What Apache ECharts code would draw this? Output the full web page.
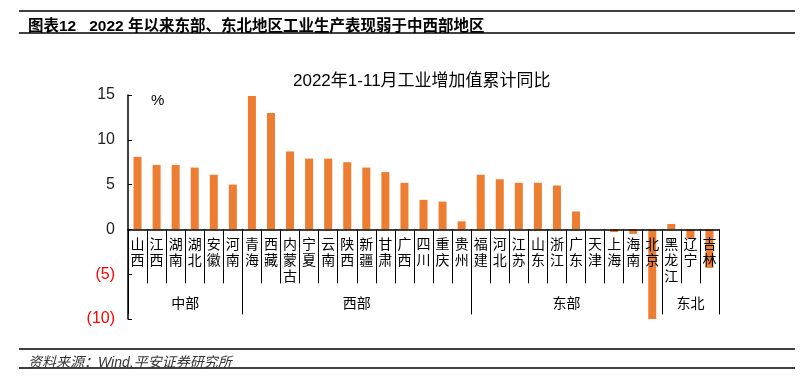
<!DOCTYPE html>
<html>
<head>
<meta charset="utf-8">
<script src="https://cdn.jsdelivr.net/npm/echarts@6/dist/echarts.min.js"></script>
<style>
  html, body { margin: 0; padding: 0; background: #fff; }
  #main { width: 805px; height: 376px; }
</style>
</head>
<body>
<div id="main"></div>
<script>
// 省份及1-11月工业增加值累计同比(%)
var provinces = ['山西', '江西', '湖南', '湖北', '安徽', '河南',
    '青海', '西藏', '内蒙古', '宁夏', '云南', '陕西', '新疆', '甘肃', '广西', '四川', '重庆', '贵州',
    '福建', '河北', '江苏', '山东', '浙江', '广东', '天津', '上海', '海南', '北京',
    '黑龙江', '辽宁', '吉林'];
var growth = [8.1, 7.2, 7.2, 6.9, 6.1, 5.0,
    14.9, 13.0, 8.7, 7.9, 7.9, 7.5, 6.9, 6.4, 5.2, 3.3, 3.1, 0.9,
    6.1, 5.6, 5.2, 5.2, 4.9, 2.0, 0.0, -0.3, -0.5, -10.0,
    0.6, -1.0, -4.3];

// 区域分组
var groupNames = ['中部', '西部', '东部', '东北'];
var groupSizes = [6, 12, 10, 3];

// y轴刻度
var yMin = -10, yMax = 15, yStep = 5;

var FONT = "'Liberation Sans', 'Noto Sans CJK SC', sans-serif";
var CJK = "'Noto Sans CJK SC', sans-serif";

var gridTop = 95, gridBottom = 57, H = 376;
// x轴放在0值处：从绘图区底边往上移
var plotH = H - gridTop - gridBottom;
var zeroOffset = -plotH * (0 - yMin) / (yMax - yMin);

// 分组轴：每个省份占两个半格，共 2n+1 个点
var groupPoints = [];
var groupLabel = {};
var groupBound = {};
var start = 0;
for (var i = 0; i <= provinces.length * 2; i++) groupPoints.push('');
groupBound[0] = true;
for (var g = 0; g < groupNames.length; g++) {
    groupLabel[2 * start + groupSizes[g]] = groupNames[g];
    start += groupSizes[g];
    groupBound[2 * start] = true;
}

var chart = echarts.init(document.getElementById('main'), null, { renderer: 'canvas' });

var option = {
    backgroundColor: '#fff',
    animation: false,
    title: [
        {
            text: '图表12   2022 年以来东部、东北地区工业生产表现弱于中西部地区',
            left: 23, top: 14,
            textStyle: { fontFamily: FONT, fontSize: 15.5, fontWeight: 'bold', color: '#000' }
        },
        {
            text: '2022年1-11月工业增加值累计同比',
            left: 288, top: 68,
            textStyle: { fontFamily: FONT, fontSize: 17, fontWeight: 'normal', color: '#000' }
        },
        {
            text: '%',
            left: 146, top: 88,
            textStyle: { fontFamily: FONT, fontSize: 15, fontWeight: 'normal', color: '#000' }
        },
        {
            text: '资料来源：Wind,平安证券研究所',
            left: 23, top: 351,
            textStyle: { fontFamily: FONT, fontSize: 14, fontStyle: 'italic', fontWeight: 'normal', color: '#333' }
        }
    ],
    graphic: [
        { type: 'line', shape: { x1: 19, y1: 11, x2: 795, y2: 11 }, style: { stroke: '#000', lineWidth: 1.5 } },
        { type: 'line', shape: { x1: 19, y1: 33, x2: 795, y2: 33 }, style: { stroke: '#000', lineWidth: 1.5 } },
        { type: 'line', shape: { x1: 19, y1: 349, x2: 795, y2: 349 }, style: { stroke: '#000', lineWidth: 1.5 } },
        { type: 'line', shape: { x1: 19, y1: 368, x2: 795, y2: 368 }, style: { stroke: '#000', lineWidth: 1.5 } }
    ],
    grid: { left: 128, right: 86, top: gridTop, bottom: gridBottom, containLabel: false, outerBoundsMode: 'none' },
    xAxis: [
        {
            type: 'category',
            data: provinces,
            position: 'bottom',
            offset: zeroOffset,
            z: 5,
            axisLine: { onZero: false, lineStyle: { color: '#000', width: 1.5 } },
            axisTick: { show: true, length: 54, lineStyle: { color: '#000', width: 1 } },
            axisLabel: {
                interval: 0,
                margin: 6,
                fontFamily: CJK,
                fontSize: 14,
                lineHeight: 16,
                color: '#000',
                verticalAlign: 'top',
                formatter: function (v) { return v.split('').join('\n'); }
            },
            splitLine: { show: false }
        },
        {
            type: 'category',
            data: groupPoints,
            position: 'bottom',
            offset: zeroOffset,
            boundaryGap: false,
            z: 5,
            axisLine: { show: false, onZero: false },
            axisTick: {
                show: true,
                length: 85,
                interval: function (idx) { return !!groupBound[idx]; },
                lineStyle: { color: '#000', width: 1 }
            },
            axisLabel: {
                interval: 0,
                margin: 66,
                fontFamily: CJK,
                fontSize: 14,
                color: '#000',
                formatter: function (v, idx) { return groupLabel[idx] || ''; }
            },
            splitLine: { show: false }
        }
    ],
    yAxis: {
        type: 'value',
        min: yMin,
        max: yMax,
        interval: yStep,
        axisLine: { show: true, lineStyle: { color: '#000', width: 1.5 } },
        axisTick: { show: true, inside: true, length: 4, lineStyle: { color: '#000' } },
        axisLabel: {
            margin: 13,
            fontFamily: FONT,
            fontSize: 16,
            color: function (v) { return Number(v) < 0 ? '#FF0000' : '#222'; },
            formatter: function (v) { return v < 0 ? '(' + (-v) + ')' : String(v); }
        },
        splitLine: { show: false }
    },
    series: [
        {
            name: '累计同比',
            type: 'bar',
            xAxisIndex: 0,
            barWidth: 8,
            itemStyle: { color: '#ED7D31' },
            data: growth
        }
    ]
};

chart.setOption(option);
</script>
</body>
</html>
